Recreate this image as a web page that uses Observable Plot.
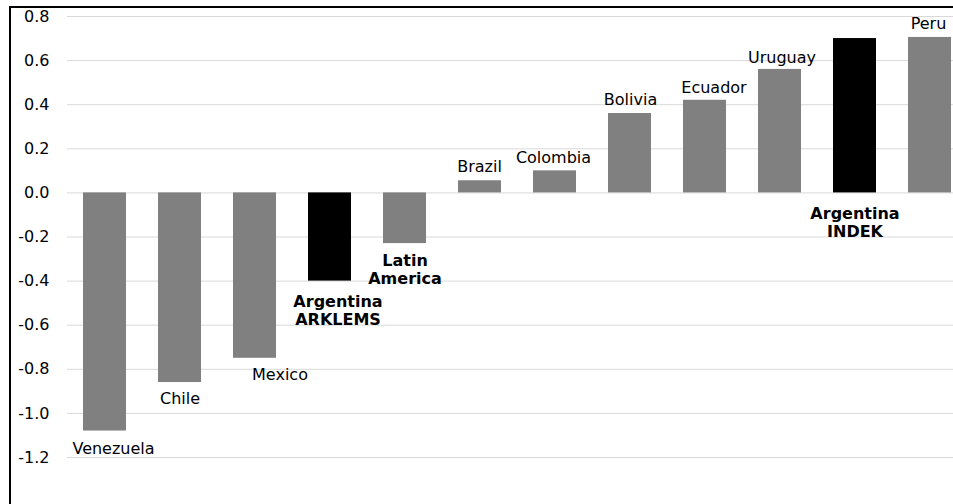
<!DOCTYPE html>
<html>
<head>
<meta charset="utf-8">
<script src="https://cdn.jsdelivr.net/npm/d3@7"></script>
<script src="https://cdn.jsdelivr.net/npm/@observablehq/plot@0.6"></script>
<style>
  html, body { margin: 0; padding: 0; background: #fff; }
  #wrap { position: relative; width: 953px; height: 504px; overflow: hidden; background: #fff; }
  #wrap svg { max-width: none !important; }
  #frame { position: absolute; left: 9px; top: 6px; width: 2000px; height: 2000px;
           border-left: 2px solid #000; border-top: 2px solid #000; pointer-events: none; }
</style>
</head>
<body>
<div id="wrap"><div id="frame"></div></div>
<script>
// ---- data ----
const labels = ["Venezuela", "Chile", "Mexico", "Argentina\nARKLEMS", "Latin\nAmerica", "Brazil",
                "Colombia", "Bolivia", "Ecuador", "Uruguay", "Argentina\nINDEK", "Peru"];
const values = [-1.08, -0.86, -0.75, -0.40, -0.23, 0.055, 0.10, 0.36, 0.42, 0.56, 0.70, 0.705];
const kinds = ["country", "country", "country", "argentina", "region", "country",
               "country", "country", "country", "country", "argentina", "country"];
const yTicks = [-1.2, -1.0, -0.8, -0.6, -0.4, -0.2, 0.0, 0.2, 0.4, 0.6, 0.8];

const data = labels.map((label, i) => ({label, value: values[i], kind: kinds[i]}));

// ---- label layout (pixel nudges, kept apart from the data) ----
const nudge = {
  "Venezuela": [8.5, 17], "Chile": [0, 15.5], "Mexico": [25, 16],
  "Argentina\nARKLEMS": [8, 29], "Latin\nAmerica": [0, 25.5],
  "Brazil": [-0.5, -15], "Colombia": [-1.5, -14], "Bolivia": [0.5, -14],
  "Ecuador": [9, -13], "Uruguay": [2, -12], "Argentina\nINDEK": [0, 29], "Peru": [-1.5, -14]
};
const labelAtZero = new Set(["Argentina\nINDEK"]);

const textMarks = data.map(d => {
  const [dx, dy] = nudge[d.label];
  return Plot.text([d], {
    x: "label",
    y: r => labelAtZero.has(r.label) ? 0 : r.value,
    text: "label",
    dx, dy,
    lineAnchor: "middle",
    lineHeight: 1.13,
    fill: "#000",
    fontWeight: d.kind === "country" ? "normal" : "bold",
    fontSize: 16
  });
});

const chart = Plot.plot({
  width: 967,
  height: 504,
  marginLeft: 67,
  marginRight: 0,
  marginTop: 16,
  marginBottom: 47,
  style: {fontFamily: "DejaVu Sans", fontSize: "16px", background: "transparent", color: "#000", maxWidth: "none"},
  x: {domain: labels, paddingInner: 0.427, paddingOuter: 0.2135, axis: null},
  y: {domain: [-1.2, 0.8]},
  marks: [
    Plot.ruleY(yTicks, {stroke: "#d9d9d9", strokeWidth: 1}),
    Plot.barY(data, {
      x: "label",
      y: "value",
      fill: d => d.kind === "argentina" ? "#000000" : "#808080"
    }),
    Plot.axisY(yTicks, {
      tickSize: 0, tickPadding: 18, label: null,
      tickFormat: d => d.toFixed(1), fontSize: 16, fill: "#000"
    }),
    ...textMarks
  ]
});

document.getElementById("wrap").insertBefore(chart, document.getElementById("frame"));
</script>
</body>
</html>
